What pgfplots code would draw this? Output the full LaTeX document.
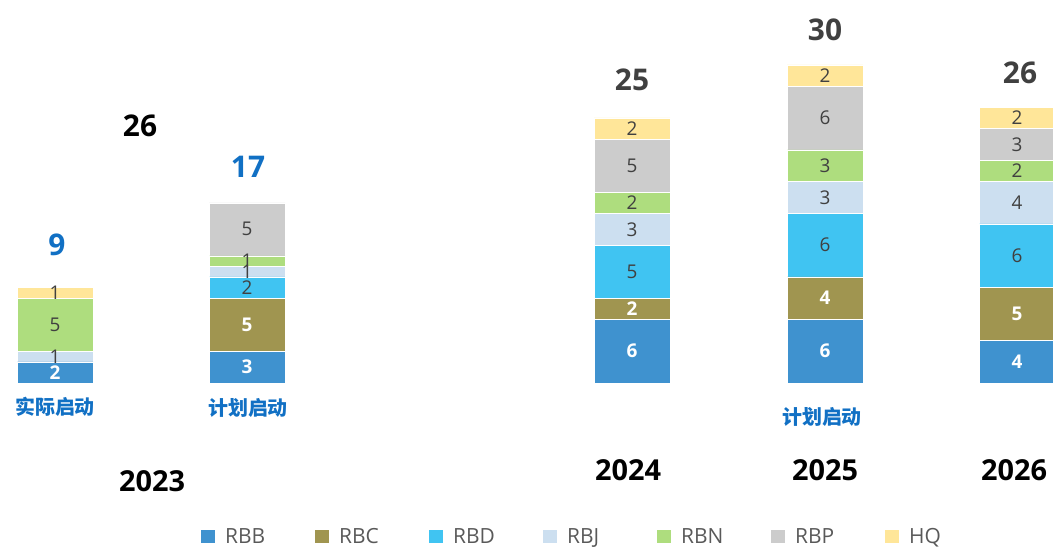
\documentclass[border=0pt]{standalone}
\usepackage{pgfplots}
\usepackage{pgfplotstable}
\pgfplotsset{compat=1.18}
\usepackage{fontspec}
\setmainfont{Open Sans}
\newfontfamily\cjk{Noto Sans CJK SC}
\definecolor{cRBB}{HTML}{3F92CF}
\definecolor{cRBC}{HTML}{A09550}
\definecolor{cRBD}{HTML}{40C4F2}
\definecolor{cRBJ}{HTML}{CCDFF0}
\definecolor{cRBN}{HTML}{AEDD7E}
\definecolor{cRBP}{HTML}{CCCCCC}
\definecolor{cHQ}{HTML}{FFE699}
\definecolor{labblue}{HTML}{1170C4}
\definecolor{dark}{HTML}{404040}
\definecolor{legtext}{HTML}{595959}

\pgfplotstableread{
x y lab
55 1 2
247 1.5 3
247 5.5 5
632 3 6
632 7 2
825 3 6
825 8 4
1017 2 4
1017 6.5 5
}\whitelab
\pgfplotstableread{
x y lab
55 2.5 1
55 5.5 5
55 8.5 1
247 9 2
247 10.5 1
247 11.5 1
247 14.5 5
632 10.5 5
632 14.5 3
632 17 2
632 20.5 5
632 24 2
825 13 6
825 17.5 3
825 20.5 3
825 25 6
825 29 2
1017 12 6
1017 17 4
1017 20 2
1017 22.5 3
1017 25 2
}\darklab
\pgfplotstableread{
x y lab
57 13.0 9
248 20.4 17
}\bluetot
\pgfplotstableread{
x y lab
632 28.6 25
825 33.3 30
1020 29.3 26
}\darktot

\pgfplotsset{base/.style={scale only axis, width=1053bp, height=549bp,
  xmin=0, xmax=1053, ymin=-15.66, ymax=36.13, hide axis}}

\begin{document}
\begin{tikzpicture}
\begin{axis}[base, name=ax, ybar stacked, bar width=76,
  legend columns=7,
  legend style={at={(0.1909,0.0228)}, anchor=west, draw=none, fill=none, inner sep=0pt,
    font=\fontsize{21}{21}\selectfont, text=legtext,
    nodes={text width=80bp, align=left, inner xsep=10bp}},
  legend image code/.code={\fill[#1,draw=none] (0bp,-6.5bp) rectangle (14bp,6.5bp);},
  ]
\addplot[fill=cRBB, draw=white, line width=0.4bp] coordinates {(55,2) (247,3) (632,6) (825,6) (1017,4)};
\addlegendentry{RBB}
\addplot[fill=cRBC, draw=white, line width=0.4bp] coordinates {(55,0) (247,5) (632,2) (825,4) (1017,5)};
\addlegendentry{RBC}
\addplot[fill=cRBD, draw=white, line width=0.4bp] coordinates {(55,0) (247,2) (632,5) (825,6) (1017,6)};
\addlegendentry{RBD}
\addplot[fill=cRBJ, draw=white, line width=0.4bp] coordinates {(55,1) (247,1) (632,3) (825,3) (1017,4)};
\addlegendentry{RBJ}
\addplot[fill=cRBN, draw=white, line width=0.4bp] coordinates {(55,5) (247,1) (632,2) (825,3) (1017,2)};
\addlegendentry{RBN}
\addplot[fill=cRBP, draw=white, line width=0.4bp] coordinates {(55,0) (247,5) (632,5) (825,6) (1017,3)};
\addlegendentry{RBP}
\addplot[fill=cHQ, draw=white, line width=0.4bp] coordinates {(55,1) (247,0) (632,2) (825,2) (1017,2)};
\addlegendentry{HQ}
\end{axis}
\begin{axis}[base, clip=false]
\addplot[only marks, mark=none, nodes near coords, point meta=explicit symbolic,
  nodes near coords align=center,
  every node near coord/.append style={font=\fontsize{19}{19}\selectfont\bfseries, text=white, inner sep=0pt}]
  table[x=x, y=y, meta=lab] {\whitelab};
\addplot[only marks, mark=none, nodes near coords, point meta=explicit symbolic,
  nodes near coords align=center,
  every node near coord/.append style={font=\fontsize{19}{19}\selectfont, text=dark, inner sep=0pt}]
  table[x=x, y=y, meta=lab] {\darklab};
\addplot[only marks, mark=none, nodes near coords, point meta=explicit symbolic,
  nodes near coords align=center,
  every node near coord/.append style={font=\fontsize{30}{30}\selectfont\bfseries, text=labblue, inner sep=0pt}]
  table[x=x, y=y, meta=lab] {\bluetot};
\addplot[only marks, mark=none, nodes near coords, point meta=explicit symbolic,
  nodes near coords align=center,
  every node near coord/.append style={font=\fontsize{30}{30}\selectfont\bfseries, text=dark, inner sep=0pt}]
  table[x=x, y=y, meta=lab] {\darktot};
\node[font=\fontsize{30}{30}\selectfont\bfseries, text=black] at (axis cs:140,24.3) {26};
\node[font=\cjk\fontsize{20}{20}\selectfont\bfseries, text=labblue] at (axis cs:55,-2.26) {实际启动};
\node[font=\cjk\fontsize{20}{20}\selectfont\bfseries, text=labblue] at (axis cs:248,-2.36) {计划启动};
\node[font=\cjk\fontsize{20}{20}\selectfont\bfseries, text=labblue] at (axis cs:822,-3.2) {计划启动};
\node[font=\fontsize{29}{29}\selectfont\bfseries, text=black] at (axis cs:152,-9.25) {2023};
\node[font=\fontsize{29}{29}\selectfont\bfseries, text=black] at (axis cs:628,-8.2) {2024};
\node[font=\fontsize{29}{29}\selectfont\bfseries, text=black] at (axis cs:825,-8.2) {2025};
\node[font=\fontsize{29}{29}\selectfont\bfseries, text=black] at (axis cs:1014,-8.2) {2026};
\end{axis}
\pgfresetboundingbox
\path (ax.south west) rectangle (ax.north east);
\end{tikzpicture}
\end{document}
